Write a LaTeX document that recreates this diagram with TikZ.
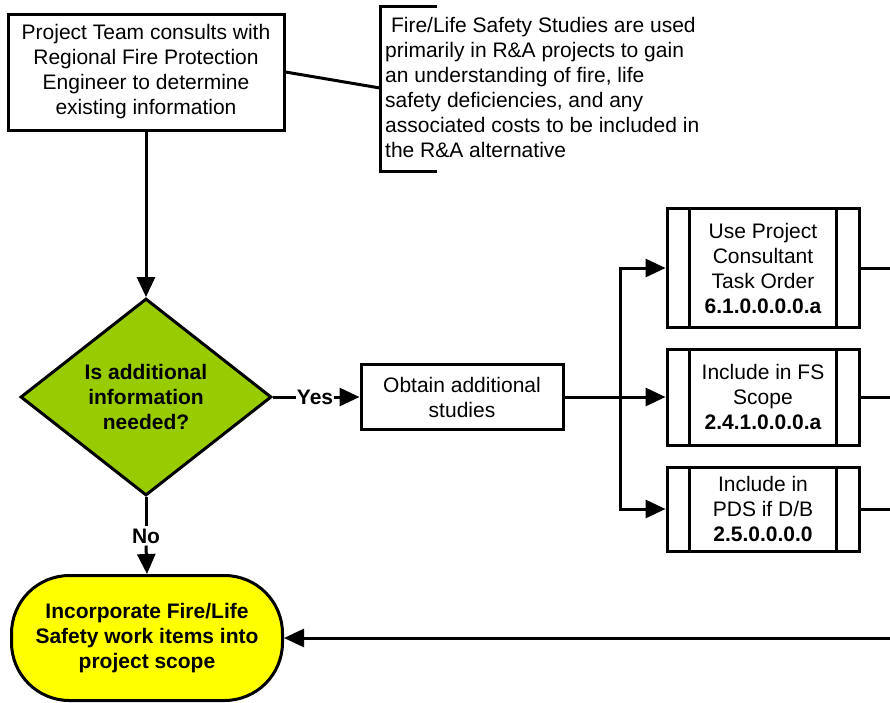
\documentclass[tikz,border=0pt]{standalone}
\usepackage{fontspec}
\setmainfont{Liberation Sans}
\usetikzlibrary{shapes.geometric,arrows.meta}
\definecolor{decgreen}{HTML}{99CC00}
\definecolor{termyellow}{HTML}{FFFF00}
\tikzset{
  every node/.style={font=\fontsize{21}{25}\selectfont},
  box/.style={draw, line width=3pt, align=center, inner sep=0pt},
  subproc/.style={box, minimum width=192pt},
  line/.style={line width=3pt},
  arr/.style={line width=3pt, -{Triangle[length=20pt,width=18pt]}},
}

\begin{document}
\begin{tikzpicture}[x=1pt, y=-1pt]
\useasboundingbox (0,0) rectangle (890,702);
\coordinate (edge) at (890,0);

\node[box, minimum width=276pt, minimum height=116pt] (proj) at (146,72)
  {Project Team consults with\\Regional Fire Protection\\Engineer to determine\\existing information};

\node[anchor=west, align=left, inner sep=0pt] (note) at (385,87)
  {\ Fire/Life Safety Studies are used\\primarily in R\&A projects to gain\\an understanding of fire, life\\safety deficiencies, and any\\associated costs to be included in\\the R\&A alternative};
\draw[line] (437,6) -- (380,6) -- (380,171) -- (437,171);
\coordinate (notel) at (380,88);
\draw[line] (proj.east) -- (notel);

\node[diamond, draw, line width=3pt, fill=decgreen, aspect=1.27, inner sep=0pt,
      minimum width=251pt, minimum height=197pt, align=center] (dec) at (146,397)
  {\bfseries Is additional\\\bfseries information\\\bfseries needed?};
\draw[arr] (proj.south) -- (dec.north);

\node[inner sep=1pt] (yes) at (315,397) {\bfseries Yes};
\node[box, minimum width=202pt, minimum height=65pt] (obt) at (462,397)
  {Obtain additional\\studies};
\draw[line] (dec.east) -- (yes.west);
\draw[arr] (yes.east) -- (obt.west);

\node[subproc, minimum height=119pt] (p1) at (763,268)
  {Use Project\\Consultant\\Task Order\\\bfseries 6.1.0.0.0.0.a};
\node[subproc, minimum height=96pt] (p2) at (763,397)
  {Include in FS\\Scope\\\bfseries 2.4.1.0.0.0.a};
\node[subproc, minimum height=84pt] (p3) at (763,509)
  {Include in\\PDS if D/B\\\bfseries 2.5.0.0.0.0};
\foreach \n in {p1,p2,p3} {
  \draw[line] ([xshift=24pt]\n.north west) -- ([xshift=24pt]\n.south west);
  \draw[line] ([xshift=-24pt]\n.north east) -- ([xshift=-24pt]\n.south east);
  \draw[line] (\n.east) -- (\n.east -| edge);
}

\coordinate (split) at (620,397);
\draw[line] (obt.east) -- (split);
\draw[arr] (split) |- (p1.west);
\draw[arr] (split) -- (p2.west);
\draw[arr] (split) |- (p3.west);

\node[draw, line width=3pt, fill=termyellow, rounded corners=58pt, align=center,
      minimum width=271pt, minimum height=125pt, inner sep=0pt] (term) at (147,638)
  {\bfseries Incorporate Fire/Life\\\bfseries Safety work items into\\\bfseries project scope};

\node[inner sep=2pt, fill=white] (no) at (146,536) {\bfseries No};
\draw[line] (dec.south) -- (no.north);
\draw[arr] (no.south) -- (term.north);

\draw[arr] (term.east -| edge) -- (term.east);

\end{tikzpicture}
\end{document}
